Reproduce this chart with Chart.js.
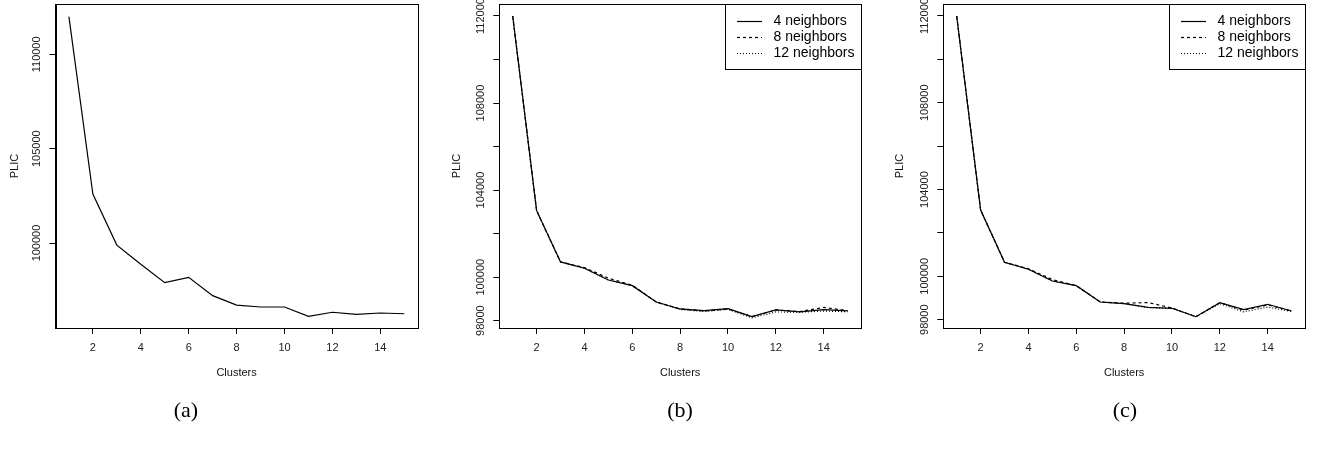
<!DOCTYPE html>
<html lang="en">
<head>
<meta charset="UTF-8">
<title>PLIC by number of clusters</title>
<style>
    body {
        margin: 0;
        background: #fff;
        width: 1320px;
        height: 451px;
        position: relative;
        overflow: hidden;
    }
    .panel {
        position: absolute;
        top: 0;
        width: 440px;
        height: 451px;
    }
    .caption {
        position: absolute;
        top: 397px;
        width: 60px;
        text-align: center;
        font-family: "Liberation Serif", serif;
        font-size: 22px;
        line-height: 25px;
        color: #000;
    }
</style>
</head>
<body>
<div class="panel" style="left:0"><canvas id="chartA" width="440" height="451"></canvas></div>
<div class="panel" style="left:440px"><canvas id="chartB" width="440" height="451"></canvas></div>
<div class="panel" style="left:880px"><canvas id="chartC" width="440" height="451"></canvas></div>
<div class="caption" style="left:156px">(a)</div>
<div class="caption" style="left:650px">(b)</div>
<div class="caption" style="left:1095px">(c)</div>

<script src="https://cdn.jsdelivr.net/npm/chart.js"></script>
<script>
const clusters = [1, 2, 3, 4, 5, 6, 7, 8, 9, 10, 11, 12, 13, 14, 15];

// (a) single model
const plicA = [112000, 102600, 99890, 98870, 97900, 98180, 97210, 96710, 96610, 96610, 96110, 96330, 96220, 96290, 96250];

// (b) neighbourhood sizes 4 / 8 / 12
const plicB4  = [112000, 103055, 100698, 100408, 99870, 99608, 98859, 98538, 98460, 98551, 98184, 98492, 98400, 98505, 98446];
const plicB8  = [112000, 103055, 100698, 100440, 99950, 99630, 98859, 98538, 98440, 98540, 98184, 98492, 98420, 98610, 98460];
const plicB12 = [112000, 103055, 100698, 100408, 99870, 99608, 98859, 98510, 98420, 98520, 98130, 98400, 98390, 98440, 98410];

// (c) neighbourhood sizes 4 / 8 / 12
const plicC4  = [112000, 103058, 100646, 100324, 99784, 99568, 98816, 98738, 98572, 98526, 98138, 98784, 98461, 98710, 98401];
const plicC8  = [112000, 103058, 100646, 100350, 99850, 99568, 98816, 98760, 98790, 98540, 98138, 98784, 98440, 98680, 98401];
const plicC12 = [112000, 103058, 100646, 100324, 99784, 99568, 98816, 98738, 98560, 98526, 98138, 98740, 98360, 98580, 98380];

const seriesLabels = ['4 neighbors', '8 neighbors', '12 neighbors'];
const xTicks = [2, 4, 6, 8, 10, 12, 14];
const yTicksA = [100000, 105000, 110000];
const yTicksBC = [98000, 100000, 102000, 104000, 106000, 108000, 110000, 112000];
const yLabelsBC = [98000, 100000, 104000, 108000, 112000];

const dashes = [[], [3, 3], [1, 2]];
const axisFont = { family: '"Liberation Sans", Arial, sans-serif', size: 11 };

// box around the plotting region
const framePlugin = {
    id: 'frame',
    afterDraw(chart) {
        const { ctx, chartArea: a } = chart;
        ctx.save();
        ctx.strokeStyle = '#000';
        ctx.lineWidth = 1;
        ctx.strokeRect(Math.round(a.left) + 0.5, Math.round(a.top) + 0.5,
            Math.round(a.right - a.left), Math.round(a.bottom - a.top));
        ctx.restore();
    }
};

// boxed legend in the top right corner, only when there is more than one line
const boxLegend = {
    id: 'boxLegend',
    afterDraw(chart) {
        const sets = chart.data.datasets;
        if (sets.length < 2) return;
        const { ctx, chartArea: a } = chart;
        const w = 136, h = 65;
        const left = Math.round(a.right) - w, top = Math.round(a.top);
        ctx.save();
        ctx.fillStyle = '#fff';
        ctx.fillRect(left, top, w, h);
        ctx.strokeStyle = '#000';
        ctx.lineWidth = 1;
        ctx.strokeRect(left + 0.5, top + 0.5, w, h);
        ctx.font = '14px "Liberation Sans", Arial, sans-serif';
        ctx.textBaseline = 'middle';
        sets.forEach((ds, i) => {
            const y = Math.round(top + 16.5 + i * 16) + 0.5;
            ctx.setLineDash(ds.borderDash || []);
            ctx.lineWidth = ds.borderWidth;
            ctx.beginPath();
            ctx.moveTo(left + 12, y);
            ctx.lineTo(left + 37, y);
            ctx.stroke();
            ctx.setLineDash([]);
            ctx.fillStyle = '#000';
            ctx.fillText(ds.label, left + 48.5, y);
        });
        ctx.restore();
    }
};

function makePanel(id, series, yMin, yMax, yTicks, yShown, axisW, rightPad, titleGap) {
    const datasets = series.map((vals, i) => ({
        label: series.length > 1 ? seriesLabels[i] : 'PLIC',
        data: clusters.map((c, k) => ({ x: c, y: vals[k] })),
        borderColor: '#000',
        borderWidth: 1.2,
        borderDash: dashes[i],
        pointRadius: 0,
        fill: false,
        tension: 0
    }));

    return new Chart(document.getElementById(id), {
        type: 'line',
        data: { datasets: datasets },
        options: {
            responsive: false,
            animation: false,
            layout: { padding: { left: 0, top: 4, right: rightPad, bottom: 56 } },
            plugins: {
                legend: { display: false },
                tooltip: { enabled: false }
            },
            scales: {
                x: {
                    type: 'linear',
                    min: 0.44,
                    max: 15.56,
                    afterBuildTicks: s => { s.ticks = xTicks.map(v => ({ value: v })); },
                    afterFit: s => { s.height = 67; s.paddingLeft = 0; s.paddingRight = 0; },
                    grid: { drawOnChartArea: false, drawTicks: true, tickLength: 6, color: '#000' },
                    border: { display: true, color: '#000' },
                    ticks: { autoSkip: false, maxRotation: 0, padding: 7.4, font: axisFont, color: '#222' },
                    title: {
                        display: true,
                        text: 'Clusters',
                        font: axisFont,
                        color: '#111',
                        padding: { top: 0, bottom: 15.4 }
                    }
                },
                y: {
                    type: 'linear',
                    min: yMin,
                    max: yMax,
                    afterBuildTicks: s => { s.ticks = yTicks.map(v => ({ value: v })); },
                    afterFit: s => { s.width = axisW; s.paddingTop = 0; s.paddingBottom = 0; },
                    grid: { drawOnChartArea: false, drawTicks: true, tickLength: 6, color: '#000' },
                    border: { display: true, color: '#000' },
                    ticks: {
                        autoSkip: false,
                        minRotation: 90,
                        maxRotation: 90,
                        crossAlign: 'center',
                        padding: -6.3,
                        font: axisFont,
                        color: '#222',
                        callback: v => (yShown.includes(v) ? String(v) : '')
                    },
                    title: {
                        display: true,
                        text: 'PLIC',
                        font: axisFont,
                        color: '#111',
                        padding: { top: titleGap, bottom: 0 }
                    }
                }
            }
        },
        plugins: [framePlugin, boxLegend]
    });
}

makePanel('chartA', [plicA], 95496, 112668, yTicksA, yTicksA, 55.5, 22.3, 8.4);
makePanel('chartB', [plicB4, plicB8, plicB12], 97663, 112551, yTicksBC, yLabelsBC, 59.3, 19, 10);
makePanel('chartC', [plicC4, plicC8, plicC12], 97617, 112553, yTicksBC, yLabelsBC, 63.3, 15, 13.4);
</script>
</body>
</html>
